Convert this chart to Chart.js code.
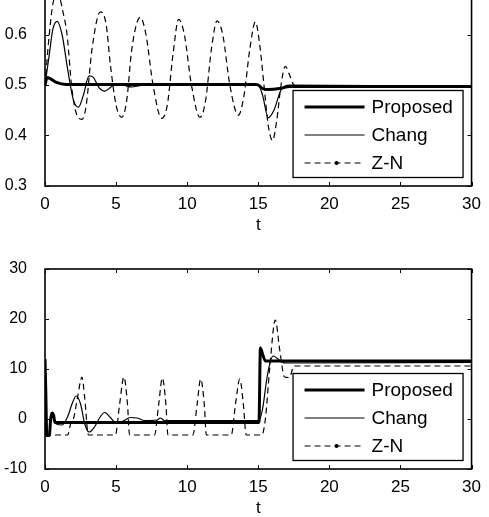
<!DOCTYPE html>
<html><head><meta charset="utf-8">
<script src="https://cdn.jsdelivr.net/npm/chart.js@4.4.0/dist/chart.umd.min.js"></script>
<style>
html,body{margin:0;padding:0;background:#fff;overflow:hidden;width:489px;height:517px;position:relative;}
canvas{position:absolute;left:0;}
</style></head><body>
<canvas id="c1" width="489" height="280" style="top:-40px"></canvas>
<canvas id="c2" width="489" height="279" style="top:244px"></canvas>
<script>
// ---- tick labels ----
const xTickValues = [0, 5, 10, 15, 20, 25, 30];
const topYTickValues = [0.3, 0.4, 0.5, 0.6];
const bottomYTickValues = [-10, 0, 10, 20, 30];
const seriesNames = ['Proposed', 'Chang', 'Z-N'];

// ---- top panel (output) ----
const topProposedT = [0, 0.15, 0.4, 0.8, 1.5, 14.8, 15.0, 15.3, 15.7, 16.5, 17.2, 30];
const topProposedY = [0.5, 0.515, 0.512, 0.505, 0.501, 0.501, 0.5, 0.493, 0.491, 0.493, 0.497, 0.497];

const topChangT = [0, 0.3, 0.55, 0.85, 1.2, 1.6, 2.0, 2.35, 2.7, 3.1, 3.4, 3.8, 4.2, 4.6, 5.0, 5.5, 6.1, 6.8, 15.0, 15.3, 15.7, 16.1, 16.6, 17.2, 30];
const topChangY = [0.5, 0.56, 0.61, 0.626, 0.6, 0.53, 0.47, 0.456, 0.48, 0.518, 0.515, 0.495, 0.488, 0.495, 0.503, 0.5, 0.496, 0.499, 0.499, 0.48, 0.435, 0.45, 0.49, 0.5, 0.497];

const topZNT = [0, 0.3, 0.55, 0.9, 1.3, 1.55, 1.9, 2.25, 2.6, 2.9, 3.3, 3.9, 4.3, 4.6, 5.0, 5.4, 5.75, 6.1, 6.7, 7.1, 7.6, 8.2, 8.6, 9.0, 9.4, 9.8, 10.3, 10.9, 11.3, 11.7, 12.1, 12.5, 13.0, 13.6, 14.0, 14.4, 14.8, 15.1, 15.4, 15.7, 16.0, 16.3, 16.6, 16.9, 17.2, 17.5, 18.0, 30];
const topZNY = [0.5, 0.6, 0.66, 0.68, 0.64, 0.6, 0.49, 0.44, 0.432, 0.46, 0.57, 0.645, 0.62, 0.54, 0.46, 0.436, 0.47, 0.57, 0.634, 0.6, 0.5, 0.434, 0.46, 0.56, 0.63, 0.6, 0.5, 0.436, 0.47, 0.57, 0.627, 0.6, 0.5, 0.44, 0.48, 0.57, 0.625, 0.58, 0.5, 0.42, 0.39, 0.43, 0.5, 0.537, 0.52, 0.5, 0.497, 0.497];

// ---- bottom panel (control signal) ----
const botProposedT = [0, 0.06, 0.12, 0.3, 0.4, 0.5, 0.6, 0.7, 15.05, 15.15, 15.3, 15.5, 30];
const botProposedY = [12, 5, -3.3, -3.3, 0, 1.2, 0.8, -0.7, -0.7, 14.2, 13, 11.6, 11.6];

const botChangT = [0, 0.05, 0.15, 0.3, 0.45, 0.6, 0.8, 1.2, 1.6, 1.9, 2.2, 2.5, 2.8, 3.1, 3.5, 3.9, 4.2, 4.6, 5.0, 5.5, 6.0, 6.5, 7.0, 7.9, 8.1, 8.4, 15.05, 15.3, 15.6, 15.85, 16.05, 16.3, 16.7, 17.0, 30];
const botChangY = [0, 4, -3, -3.2, 1, 0.5, -1.0, -1.2, 0.5, 3, 4.6, 3, -1, -2.6, -1.5, 0.5, 1.3, 0.3, -0.8, -0.4, 0.3, 0.2, -0.3, -0.2, 0.2, -0.3, -0.3, 2, 8, 11.5, 12.6, 12.2, 11.3, 11.2, 11.3];

const botZNT = [0, 1.6, 1.8, 2.0, 2.3, 2.6, 2.8, 3.05, 4.95, 5.25, 5.55, 5.8, 5.95, 7.7, 8.0, 8.25, 8.5, 8.65, 10.4, 10.7, 10.95, 11.2, 11.35, 13.1, 13.4, 13.7, 13.95, 14.15, 15.25, 15.5, 15.8, 16.2, 16.5, 16.85, 17.2, 17.5, 30];
const botZNY = [-3.2, -3.2, -1, 0, 4.5, 8.4, 4, -3.2, -3.2, 3, 8.4, 3, -3.2, -3.2, 3, 8.2, 3, -3.2, -3.2, 3, 8.0, 3, -3.2, -3.2, 3, 8.0, 3, -3.2, -3.2, 0, 10, 19.8, 14, 8.4, 8.3, 10.6, 10.6];

const pts = (T, Y) => T.map((t, i) => ({x: t, y: Y[i]}));
const FONT = "'Liberation Sans', Arial, sans-serif";

const matlabPlugin = {
  id: 'matlab',
  afterDatasetsDraw(chart) {
    const ctx = chart.ctx, a = chart.chartArea;
    ctx.save();
    ctx.strokeStyle = '#000';
    ctx.lineWidth = 1;
    const tl = 4;
    chart.scales.x.ticks.forEach(tk => {
      const px = Math.round(chart.scales.x.getPixelForValue(tk.value)) + 0.5;
      ctx.beginPath();
      ctx.moveTo(px, a.bottom); ctx.lineTo(px, a.bottom - tl);
      ctx.moveTo(px, a.top); ctx.lineTo(px, a.top + tl);
      ctx.stroke();
    });
    chart.scales.y.ticks.forEach(tk => {
      const py = Math.round(chart.scales.y.getPixelForValue(tk.value)) + 0.5;
      ctx.beginPath();
      ctx.moveTo(a.left, py); ctx.lineTo(a.left + tl, py);
      ctx.moveTo(a.right, py); ctx.lineTo(a.right - tl, py);
      ctx.stroke();
    });
    ctx.lineWidth = 1.6;
    ctx.strokeRect(a.left, a.top, a.right - a.left, a.bottom - a.top);
    // legend
    const bw = 170, bh = 87;
    const bx = a.right - 179, by = a.bottom - 96;
    ctx.fillStyle = '#fff';
    ctx.fillRect(bx, by, bw, bh);
    ctx.lineWidth = 1.3;
    ctx.strokeRect(bx + 0.5, by + 0.5, bw, bh);
    const rows = [17, 45, 73];
    const styles = [{w: 3, d: []}, {w: 1.2, d: []}, {w: 1.2, d: [6, 4]}];
    ctx.font = '19px ' + FONT;
    ctx.textBaseline = 'middle';
    ctx.textAlign = 'left';
    rows.forEach((r, i) => {
      const y = by + r;
      ctx.beginPath();
      ctx.lineWidth = styles[i].w;
      ctx.setLineDash(styles[i].d);
      ctx.moveTo(bx + 12, y); ctx.lineTo(bx + 72, y);
      ctx.stroke();
      ctx.setLineDash([]);
      if (i === 2) {
        ctx.beginPath();
        ctx.fillStyle = '#000';
        ctx.arc(bx + 44, y, 2, 0, Math.PI * 2);
        ctx.fill();
      }
      ctx.fillStyle = '#000';
      ctx.fillText(seriesNames[i], bx + 79, y + 1);
    });
    ctx.restore();
  }
};

function makeChart(id, data3, yMin, yMax, yTicks, padTop, yFmt) {
  const ds = data3.map((d, i) => ({
    label: seriesNames[i],
    data: d,
    borderColor: '#000',
    borderWidth: [3, 1.2, 1.2][i],
    borderDash: i === 2 ? [6, 4] : [],
    pointRadius: 0,
    fill: false,
    cubicInterpolationMode: 'monotone',
    order: i
  }));
  return new Chart(document.getElementById(id), {
    type: 'line',
    data: {datasets: ds},
    options: {
      responsive: false,
      animation: false,
      devicePixelRatio: 1,
      layout: {padding: {left: 0, right: 17, top: padTop, bottom: 0}},
      plugins: {legend: {display: false}, tooltip: {enabled: false}},
      scales: {
        x: {
          type: 'linear', min: 0, max: 30,
          afterBuildTicks: s => { s.ticks = xTickValues.map(v => ({value: v})); },
          afterFit: s => { s.height = 54; },
          ticks: {font: {family: FONT, size: 17}, color: '#000', padding: 8, maxRotation: 0, autoSkip: false},
          grid: {display: false, drawTicks: false}, border: {display: false},
          title: {display: true, text: 't', color: '#000', font: {family: FONT, size: 17}, padding: {top: 0, bottom: 4}}
        },
        y: {
          type: 'linear', min: yMin, max: yMax,
          afterBuildTicks: s => { s.ticks = yTicks.map(v => ({value: v})); },
          afterFit: s => { s.width = 45; },
          ticks: {font: {family: FONT, size: 16}, color: '#000', padding: 10, autoSkip: false, callback: yFmt},
          grid: {display: false}, border: {display: false}
        }
      }
    },
    plugins: [matlabPlugin]
  });
}

makeChart('c1', [pts(topProposedT, topProposedY), pts(topChangT, topChangY), pts(topZNT, topZNY)],
  0.3, 0.7, topYTickValues, 24, v => Number(v).toFixed(1));
makeChart('c2', [pts(botProposedT, botProposedY), pts(botChangT, botChangY), pts(botZNT, botZNY)],
  -10, 30, bottomYTickValues, 25, v => String(v));
</script>
</body></html>
